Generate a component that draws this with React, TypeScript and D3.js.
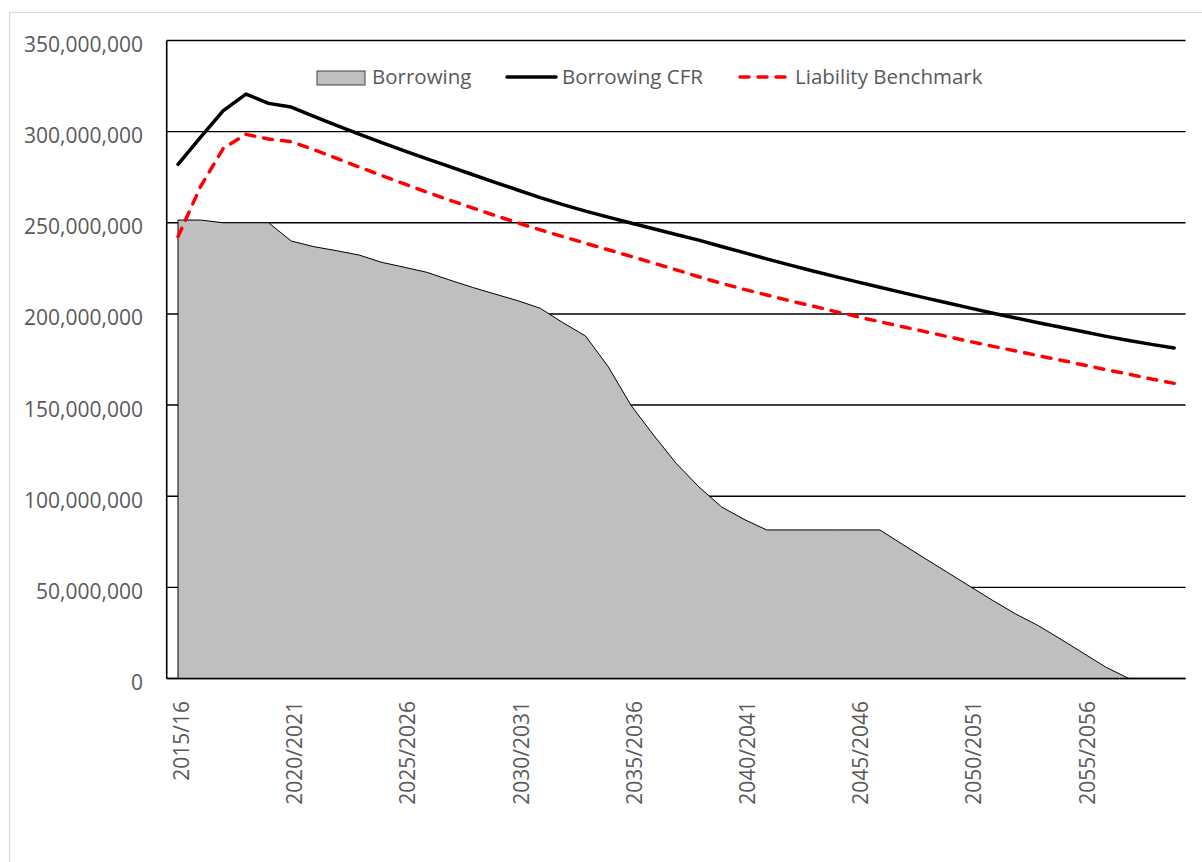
import React from 'react';
import * as d3 from 'd3';

const categories = [
  '2015/16', '2016/17', '2017/18', '2018/19', '2019/20',
  '2020/2021', '2021/2022', '2022/2023', '2023/2024', '2024/2025',
  '2025/2026', '2026/2027', '2027/2028', '2028/2029', '2029/2030',
  '2030/2031', '2031/2032', '2032/2033', '2033/2034', '2034/2035',
  '2035/2036', '2036/2037', '2037/2038', '2038/2039', '2039/2040',
  '2040/2041', '2041/2042', '2042/2043', '2043/2044', '2044/2045',
  '2045/2046', '2046/2047', '2047/2048', '2048/2049', '2049/2050',
  '2050/2051', '2051/2052', '2052/2053', '2053/2054', '2054/2055',
  '2055/2056', '2056/2057', '2057/2058', '2058/2059', '2059/2060',
];

// values in millions
const borrowing = [
  251.5, 251.5, 250.0, 250.0, 250.0, 240.0, 236.9, 234.7, 232.3, 228.3,
  225.6, 222.8, 218.6, 214.6, 210.9, 207.3, 203.1, 195.2, 187.9, 171.1,
  150.0, 133.6, 118.1, 105.2, 94.2, 87.3, 81.5, 81.5, 81.5, 81.5,
  81.5, 81.5, 73.6, 65.8, 58.1, 50.4, 42.7, 35.4, 29.0, 21.5,
  13.8, 6.1, 0, 0, 0,
];

const borrowingCFR = [
  282.1, 297.0, 311.5, 320.6, 315.5, 313.5, 308.4, 303.4, 298.6, 294.0,
  289.5, 285.1, 280.8, 276.5, 272.2, 268.0, 263.8, 260.0, 256.4, 253.1,
  249.9, 246.7, 243.6, 240.5, 237.0, 233.6, 230.2, 226.9, 223.7, 220.6,
  217.6, 214.6, 211.7, 208.8, 206.0, 203.2, 200.4, 197.8, 195.2, 192.7,
  190.2, 187.7, 185.4, 183.3, 181.3,
];

const liabilityBenchmark = [
  242.4, 270.0, 290.8, 298.5, 296.0, 294.5, 290.1, 285.4, 280.6, 275.9,
  271.3, 266.8, 262.4, 258.2, 254.0, 250.0, 246.1, 242.4, 238.8, 235.2,
  231.6, 227.9, 224.2, 220.4, 216.8, 213.5, 210.4, 207.3, 204.4, 201.4,
  198.5, 195.7, 193.0, 190.3, 187.5, 184.8, 182.2, 179.7, 177.1, 174.6,
  172.0, 169.4, 166.9, 164.3, 161.9,
];

const yTicks = [0, 50, 100, 150, 200, 250, 300, 350];
const xLabelIndices = [0, 5, 10, 15, 20, 25, 30, 35, 40];

const FONT = '"Open Sans", "Liberation Sans", sans-serif';
const TEXT = '#595959';

export default function App() {
  const W = 1202;
  const H = 862;
  const left = 166.7;
  const right = 1185.5;
  const top = 40.5;
  const bottom = 678.5;

  const x = d3.scalePoint<string>().domain(categories).range([left, right]).padding(0.5);
  const y = d3.scaleLinear().domain([0, 350]).range([bottom, top]);
  const fmt = d3.format(',');

  const areaGen = d3
    .area<number>()
    .x((_, i) => x(categories[i]) as number)
    .y0(y(0))
    .y1((d) => y(d));
  const lineGen = d3
    .line<number>()
    .x((_, i) => x(categories[i]) as number)
    .y((d) => y(d));

  return (
    <svg
      width={W}
      height={H}
      style={{ position: 'absolute', left: 0, top: 0, background: '#fff' }}
      fontFamily={FONT}
    >
      <rect x={0} y={0} width={W} height={H} fill="#fff" />
      <rect x={9.5} y={12.5} width={1400} height={1000} fill="none" stroke="#d9d9d9" strokeWidth={1.2} />

      {/* gridlines */}
      {yTicks.map((t) => (
        <line key={t} x1={left} x2={right} y1={y(t)} y2={y(t)} stroke="#000" strokeWidth={1.4} />
      ))}

      {/* area */}
      <path d={areaGen(borrowing) || ''} fill="#bfbfbf" stroke="#000" strokeWidth={1} strokeLinejoin="round" />

      {/* axes */}
      <line x1={left} x2={left} y1={top} y2={bottom} stroke="#000" strokeWidth={1.6} />
      <line x1={left} x2={right} y1={bottom} y2={bottom} stroke="#000" strokeWidth={1.6} />

      {/* lines */}
      <path d={lineGen(borrowingCFR) || ''} fill="none" stroke="#000" strokeWidth={3.5} strokeLinejoin="round" strokeLinecap="round" />
      <path
        d={lineGen(liabilityBenchmark) || ''}
        fill="none"
        stroke="#ff0000"
        strokeWidth={3.5}
        strokeDasharray="9,9"
        strokeLinecap="round"
        strokeLinejoin="round"
      />

      {/* y labels */}
      {yTicks.map((t) => (
        <text key={t} x={143} y={y(t) + 11.5} textAnchor="end" fontSize={21} fill={TEXT}>
          {fmt(t * 1000000)}
        </text>
      ))}

      {/* x labels */}
      {xLabelIndices.map((i) => {
        const cx = (x(categories[i]) as number) + 11;
        return (
          <text
            key={i}
            transform={`translate(${cx},701) rotate(-90)`}
            textAnchor="end"
            fontSize={21}
            fill={TEXT}
          >
            {categories[i]}
          </text>
        );
      })}

      {/* legend */}
      <rect x={317} y={71} width={48} height={14} fill="#bfbfbf" stroke="#404040" strokeWidth={1} />
      <text x={372} y={84} fontSize={20.5} fill={TEXT}>Borrowing</text>
      <line x1={507} x2={556} y1={77} y2={77} stroke="#000" strokeWidth={3.5} strokeLinecap="round" />
      <text x={562} y={84} fontSize={20.5} fill={TEXT}>Borrowing CFR</text>
      <line x1={740} x2={789} y1={77} y2={77} stroke="#ff0000" strokeWidth={3.5} strokeDasharray="9,9" strokeLinecap="round" />
      <text x={795} y={84} fontSize={20.5} fill={TEXT}>Liability Benchmark</text>
    </svg>
  );
}
